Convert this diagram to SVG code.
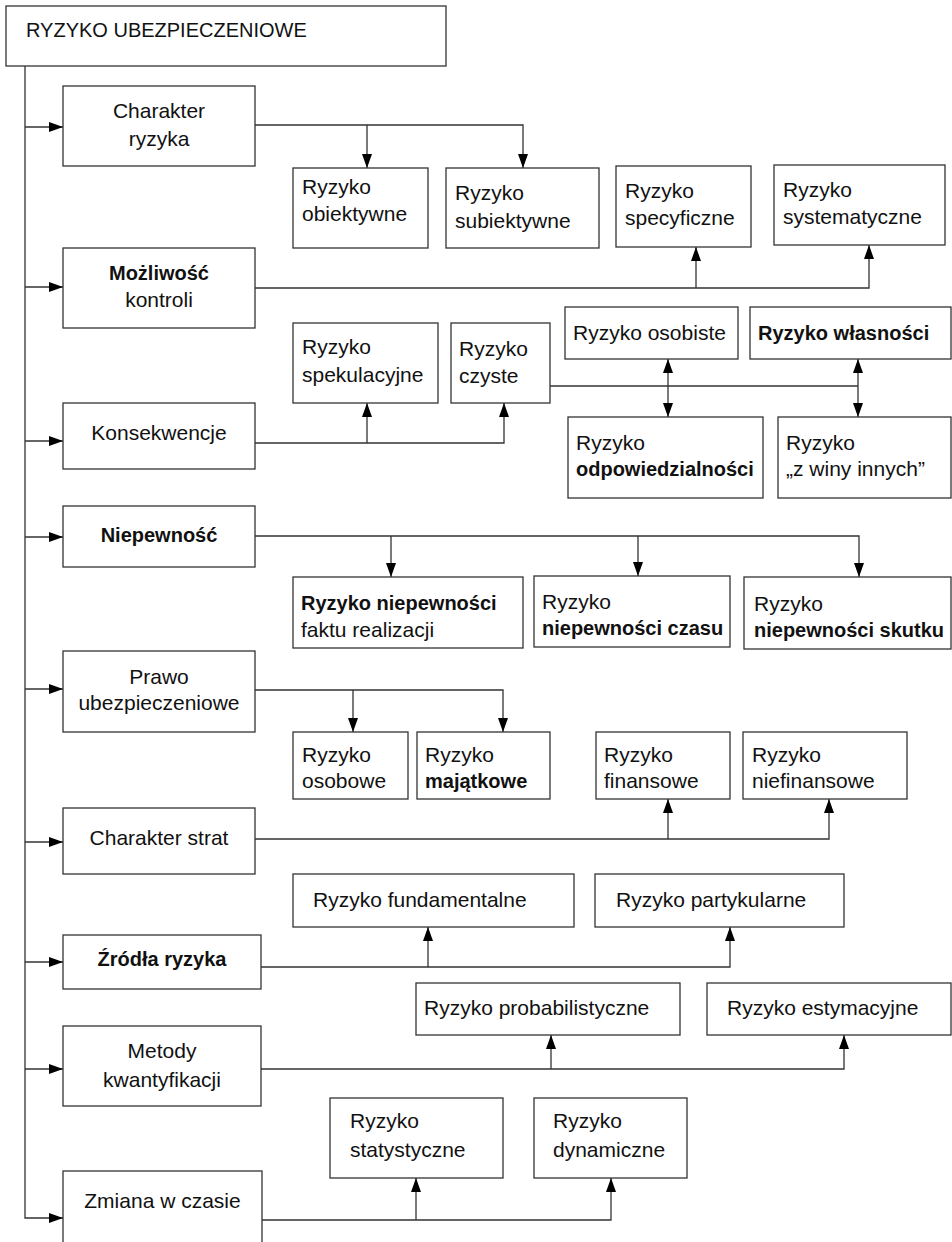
<svg xmlns="http://www.w3.org/2000/svg" width="952" height="1242" viewBox="0 0 952 1242">
<style>
  .box { fill: #fff; stroke: #333; stroke-width: 1.3; }
  .ln { fill: none; stroke: #333; stroke-width: 1.3; }
  .arr { marker-end: url(#ah); }
  .dbl { marker-start: url(#ah2); marker-end: url(#ah); }
  text { font-family: "Liberation Sans", Arial, Helvetica, sans-serif; font-size: 21px; fill: #111; }
  .c { text-anchor: middle; }
  .b { font-weight: bold; font-size: 20px; }
  .t { font-size: 20px; }
</style>
<defs>
  <marker id="ah" markerUnits="userSpaceOnUse" markerWidth="14" markerHeight="10" refX="14" refY="5" orient="auto">
    <path d="M0,0 L14,5 L0,10 z" fill="#000"/>
  </marker>
  <marker id="ah2" markerUnits="userSpaceOnUse" markerWidth="14" markerHeight="10" refX="14" refY="5" orient="auto-start-reverse">
    <path d="M0,0 L14,5 L0,10 z" fill="#000"/>
  </marker>
</defs>
<rect width="952" height="1242" fill="#fff"/>

<g id="connectors">
  <path class="ln" d="M25,66 V1218 H63" marker-end="url(#ah)"/>
  <path class="ln arr" d="M25,127 H63"/>
  <path class="ln arr" d="M25,287 H63"/>
  <path class="ln arr" d="M25,441 H63"/>
  <path class="ln arr" d="M25,537 H63"/>
  <path class="ln arr" d="M25,689 H63"/>
  <path class="ln arr" d="M25,842 H63"/>
  <path class="ln arr" d="M25,962 H63"/>
  <path class="ln arr" d="M25,1069 H63"/>

  <path class="ln arr" d="M255,125 H523 V168"/>
  <path class="ln arr" d="M367,125 V168"/>

  <path class="ln arr" d="M255,288 H869 V245"/>
  <path class="ln arr" d="M696,288 V247"/>

  <path class="ln arr" d="M255,443 H504 V403"/>
  <path class="ln arr" d="M367,443 V403"/>

  <path class="ln" d="M550,386 H858"/>
  <path class="ln dbl" d="M668,359 V417"/>
  <path class="ln dbl" d="M858,359 V417"/>

  <path class="ln arr" d="M255,536 H859 V577"/>
  <path class="ln arr" d="M391,536 V577"/>
  <path class="ln arr" d="M638,536 V576"/>

  <path class="ln arr" d="M255,690 H503 V732"/>
  <path class="ln arr" d="M353,690 V732"/>

  <path class="ln arr" d="M255,839 H829 V799"/>
  <path class="ln arr" d="M668,839 V799"/>

  <path class="ln arr" d="M261,967 H730 V927"/>
  <path class="ln arr" d="M428,967 V927"/>

  <path class="ln arr" d="M261,1069 H844 V1035"/>
  <path class="ln arr" d="M551,1069 V1035"/>

  <path class="ln arr" d="M262,1220 H611 V1178"/>
  <path class="ln arr" d="M416,1220 V1178"/>
</g>

<g id="root">
  <rect class="box" x="6" y="6" width="440" height="60"/>
  <text class="t" x="26" y="37">RYZYKO UBEZPIECZENIOWE</text>
</g>

<g id="charakter-ryzyka">
  <rect class="box" x="63" y="86" width="192" height="80"/>
  <text class="c" x="159" y="118">Charakter</text>
  <text class="c" x="159" y="146">ryzyka</text>
</g>
<g id="obiektywne">
  <rect class="box" x="293" y="168" width="135" height="80"/>
  <text x="302" y="194">Ryzyko</text>
  <text x="302" y="221">obiektywne</text>
</g>
<g id="subiektywne">
  <rect class="box" x="446" y="168" width="153" height="80"/>
  <text x="455" y="200">Ryzyko</text>
  <text x="455" y="228">subiektywne</text>
</g>
<g id="specyficzne">
  <rect class="box" x="616" y="166" width="135" height="81"/>
  <text x="625" y="198">Ryzyko</text>
  <text x="625" y="225">specyficzne</text>
</g>
<g id="systematyczne">
  <rect class="box" x="774" y="165" width="171" height="80"/>
  <text x="783" y="197">Ryzyko</text>
  <text x="783" y="224">systematyczne</text>
</g>

<g id="mozliwosc-kontroli">
  <rect class="box" x="63" y="248" width="192" height="80"/>
  <text class="c b" x="159" y="280">Możliwość</text>
  <text class="c" x="159" y="307">kontroli</text>
</g>

<g id="spekulacyjne">
  <rect class="box" x="293" y="323" width="145" height="80"/>
  <text x="302" y="354">Ryzyko</text>
  <text x="302" y="382">spekulacyjne</text>
</g>
<g id="czyste">
  <rect class="box" x="451" y="323" width="99" height="80"/>
  <text x="459" y="356">Ryzyko</text>
  <text x="459" y="383">czyste</text>
</g>
<g id="osobiste">
  <rect class="box" x="565" y="307" width="173" height="52"/>
  <text x="573" y="340">Ryzyko osobiste</text>
</g>
<g id="wlasnosci">
  <rect class="box" x="750" y="307" width="201" height="52"/>
  <text class="b" x="758" y="340">Ryzyko własności</text>
</g>
<g id="odpowiedzialnosci">
  <rect class="box" x="568" y="417" width="195" height="81"/>
  <text x="576" y="450">Ryzyko</text>
  <text class="b" x="576" y="476">odpowiedzialności</text>
</g>
<g id="z-winy-innych">
  <rect class="box" x="778" y="417" width="173" height="81"/>
  <text x="786" y="450">Ryzyko</text>
  <text x="786" y="476">„z winy innych”</text>
</g>

<g id="konsekwencje">
  <rect class="box" x="63" y="403" width="192" height="66"/>
  <text class="c" x="159" y="440">Konsekwencje</text>
</g>

<g id="niepewnosc">
  <rect class="box" x="63" y="506" width="192" height="61"/>
  <text class="c b" x="159" y="542">Niepewność</text>
</g>
<g id="niepewnosc-faktu">
  <rect class="box" x="293" y="577" width="230" height="71"/>
  <text class="b" x="301" y="610">Ryzyko niepewności</text>
  <text x="301" y="637">faktu realizacji</text>
</g>
<g id="niepewnosc-czasu">
  <rect class="box" x="534" y="576" width="196" height="71"/>
  <text x="542" y="609">Ryzyko</text>
  <text class="b" x="542" y="635">niepewności czasu</text>
</g>
<g id="niepewnosc-skutku">
  <rect class="box" x="744" y="577" width="207" height="72"/>
  <text x="754" y="611">Ryzyko</text>
  <text class="b" x="754" y="637">niepewności skutku</text>
</g>

<g id="prawo">
  <rect class="box" x="63" y="651" width="192" height="81"/>
  <text class="c" x="159" y="684">Prawo</text>
  <text class="c" x="159" y="710">ubezpieczeniowe</text>
</g>
<g id="osobowe">
  <rect class="box" x="293" y="732" width="115" height="67"/>
  <text x="302" y="762">Ryzyko</text>
  <text x="302" y="788">osobowe</text>
</g>
<g id="majatkowe">
  <rect class="box" x="417" y="732" width="133" height="67"/>
  <text x="425" y="762">Ryzyko</text>
  <text class="b" x="425" y="788">majątkowe</text>
</g>
<g id="finansowe">
  <rect class="box" x="596" y="732" width="134" height="67"/>
  <text x="604" y="762">Ryzyko</text>
  <text x="604" y="788">finansowe</text>
</g>
<g id="niefinansowe">
  <rect class="box" x="743" y="732" width="164" height="67"/>
  <text x="752" y="762">Ryzyko</text>
  <text x="752" y="788">niefinansowe</text>
</g>

<g id="charakter-strat">
  <rect class="box" x="63" y="808" width="192" height="66"/>
  <text class="c" x="159" y="845">Charakter strat</text>
</g>

<g id="fundamentalne">
  <rect class="box" x="293" y="874" width="281" height="53"/>
  <text x="313" y="907">Ryzyko fundamentalne</text>
</g>
<g id="partykularne">
  <rect class="box" x="595" y="874" width="249" height="53"/>
  <text x="616" y="907">Ryzyko partykularne</text>
</g>
<g id="zrodla">
  <rect class="box" x="63" y="935" width="198" height="54"/>
  <text class="c b" x="162" y="966">Źródła ryzyka</text>
</g>

<g id="probabilistyczne">
  <rect class="box" x="416" y="983" width="264" height="52"/>
  <text x="424" y="1015">Ryzyko probabilistyczne</text>
</g>
<g id="estymacyjne">
  <rect class="box" x="707" y="983" width="244" height="52"/>
  <text x="727" y="1015">Ryzyko estymacyjne</text>
</g>
<g id="metody">
  <rect class="box" x="63" y="1026" width="198" height="80"/>
  <text class="c" x="162" y="1058">Metody</text>
  <text class="c" x="162" y="1087">kwantyfikacji</text>
</g>

<g id="statystyczne">
  <rect class="box" x="330" y="1098" width="173" height="80"/>
  <text x="350" y="1128">Ryzyko</text>
  <text x="350" y="1157">statystyczne</text>
</g>
<g id="dynamiczne">
  <rect class="box" x="534" y="1098" width="153" height="80"/>
  <text x="553" y="1128">Ryzyko</text>
  <text x="553" y="1157">dynamiczne</text>
</g>
<g id="zmiana">
  <rect class="box" x="63" y="1171" width="199" height="100"/>
  <text class="c" x="162.5" y="1208">Zmiana w czasie</text>
</g>
</svg>
